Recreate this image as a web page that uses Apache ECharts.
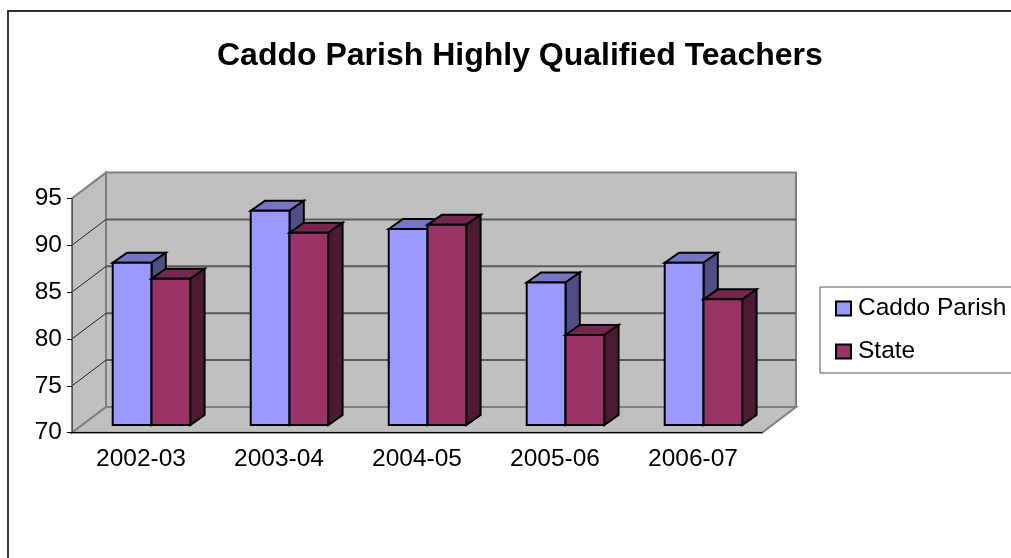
<!DOCTYPE html>
<html>
<head>
<meta charset="utf-8">
<style>
  html, body { margin: 0; padding: 0; background: #fff; }
  #myChart { width: 1011px; height: 558px; }
</style>
<script src="https://cdn.jsdelivr.net/npm/echarts@6/dist/echarts.min.js"></script>
</head>
<body>
<div id="myChart"></div>
<script>
const years = ['2002-03', '2003-04', '2004-05', '2005-06', '2006-07']
const caddoParish = [87.3, 92.85, 90.9, 85.2, 87.3]
const stateValues = [85.6, 90.5, 91.35, 79.6, 83.4]
const yTicks = [70, 75, 80, 85, 90, 95]

const FONT = '"Liberation Sans", Arial, sans-serif'
// depth of the fake 3d box, in pixels
const WALL_DX = 34
const WALL_DY = -25.7
const BAR_DX = 10.5
const BAR_DY = -7.7
const DEPTH_DX = 14.3
const DEPTH_DY = -10
const BAR_SHARE = 0.281

const poly = (points, fill, stroke, width, z2) => ({
  type: 'polygon',
  z2: z2 || 0,
  shape: { points },
  style: { fill, stroke, lineWidth: width, lineJoin: 'miter' }
})
const line = (a, b, stroke, width, z2) => ({
  type: 'line',
  z2: z2 || 1,
  shape: { x1: a[0], y1: a[1], x2: b[0], y2: b[1] },
  style: { stroke, lineWidth: width }
})

// back wall, side wall, floor and the grid lines on them
function renderWalls(params, api) {
  const last = years.length - 1
  const yMin = yTicks[0]
  const yMax = yTicks[yTicks.length - 1]
  const halfCat = api.size([1, 0])[0] / 2
  const fl = api.coord([0, yMin])
  const ft = api.coord([0, yMax])
  const fr = api.coord([last, yMin])
  const left = fl[0] - halfCat
  const right = fr[0] + halfCat
  const bottom = fl[1]
  const top = ft[1]
  const bLeft = left + WALL_DX
  const bRight = right + WALL_DX
  const bBottom = bottom + WALL_DY
  const bTop = top + WALL_DY
  const children = [
    poly([[bLeft, bTop], [bRight, bTop], [bRight, bBottom], [bLeft, bBottom]], '#c0c0c0', '#808080', 2),
    poly([[left, top], [bLeft, bTop], [bLeft, bBottom], [left, bottom]], '#c0c0c0', '#808080', 2),
    poly([[left, bottom], [bLeft, bBottom], [bRight, bBottom], [right, bottom]], '#c0c0c0', '#808080', 2)
  ]
  yTicks.slice(1, -1).forEach(t => {
    const y = api.coord([0, t])[1]
    children.push(line([left, y], [bLeft, y + WALL_DY], '#222', 1))
    children.push(line([bLeft, y + WALL_DY], [bRight, y + WALL_DY], '#5a5a5a', 2))
  })
  return { type: 'group', children }
}

// one series of bars, slot -1 sits left of the category middle, slot 0 right of it
function barRenderer(slot, topFill, sideFill) {
  return function (params, api) {
    const base = api.coord([api.value(0), yTicks[0]])
    const head = api.coord([api.value(0), api.value(1)])
    const w = api.size([1, 0])[0] * BAR_SHARE
    const x0 = base[0] + BAR_DX + slot * w
    const x1 = x0 + w
    const y0 = head[1] + BAR_DY
    const y1 = base[1] + BAR_DY
    const d = (p) => [p[0] + DEPTH_DX, p[1] + DEPTH_DY]
    const style = api.style()
    return {
      type: 'group',
      children: [
        poly([[x0, y0], d([x0, y0]), d([x1, y0]), [x1, y0]], topFill, '#000', 2),
        poly([[x1, y0], d([x1, y0]), d([x1, y1]), [x1, y1]], sideFill, '#000', 2),
        poly([[x0, y0], [x1, y0], [x1, y1], [x0, y1]], style.fill, '#000', 2)
      ]
    }
  }
}

const myChart = echarts.init(document.getElementById('myChart'), null, { renderer: 'canvas' })
myChart.setOption({
  animation: false,
  backgroundColor: '#fff',
  title: {
    text: 'Caddo Parish Highly Qualified Teachers',
    left: 217,
    top: 40,
    padding: 0,
    textStyle: { fontFamily: FONT, fontSize: 32, fontWeight: 'bold', color: '#000' }
  },
  legend: {
    orient: 'vertical',
    left: 820,
    top: 287,
    padding: [9, 10, 9, 15],
    itemWidth: 15,
    itemHeight: 14,
    itemGap: 18,
    backgroundColor: '#fff',
    borderColor: '#555',
    borderWidth: 1,
    borderRadius: 0,
    textStyle: { fontFamily: FONT, fontSize: 24.5, color: '#000', padding: [0, 0, 0, 2] },
    data: [
      { name: 'Caddo Parish', icon: 'rect', itemStyle: { color: '#9999ff', borderColor: '#000', borderWidth: 2 } },
      { name: 'State', icon: 'rect', itemStyle: { color: '#993366', borderColor: '#000', borderWidth: 2 } }
    ]
  },
  grid: { left: 72, top: 198.3, width: 690, height: 234.4 },
  xAxis: {
    type: 'category',
    z: 5,
    data: years,
    axisLine: { lineStyle: { color: '#000', width: 1 } },
    axisTick: { length: 6, lineStyle: { color: '#000' } },
    axisLabel: { fontFamily: FONT, fontSize: 24.5, color: '#000', margin: 14 },
    splitLine: { show: false }
  },
  yAxis: {
    type: 'value',
    z: 5,
    min: 70,
    max: 95,
    interval: 5,
    axisLine: { show: true, lineStyle: { color: '#555', width: 1 } },
    axisTick: { show: true, length: 5, lineStyle: { color: '#000' } },
    axisLabel: { fontFamily: FONT, fontSize: 24.5, color: '#000', margin: 10, padding: [3, 0, 0, 0] },
    splitLine: { show: false }
  },
  graphic: [
    { type: 'line', silent: true, shape: { x1: 8, y1: 11, x2: 1011, y2: 11 }, style: { stroke: '#333', lineWidth: 2 } },
    { type: 'line', silent: true, shape: { x1: 8, y1: 10, x2: 8, y2: 558 }, style: { stroke: '#333', lineWidth: 2 } }
  ],
  series: [
    {
      name: 'walls',
      type: 'custom',
      silent: true,
      z: 1,
      data: [[0, 70]],
      renderItem: renderWalls
    },
    {
      name: 'Caddo Parish',
      type: 'custom',
      z: 2,
      itemStyle: { color: '#9999ff' },
      data: caddoParish.map((v, i) => [i, v]),
      renderItem: barRenderer(-1, '#7676c4', '#4f4f84')
    },
    {
      name: 'State',
      type: 'custom',
      z: 3,
      itemStyle: { color: '#993366' },
      data: stateValues.map((v, i) => [i, v]),
      renderItem: barRenderer(0, '#76274f', '#4d1a33')
    }
  ]
})
</script>
</body>
</html>
